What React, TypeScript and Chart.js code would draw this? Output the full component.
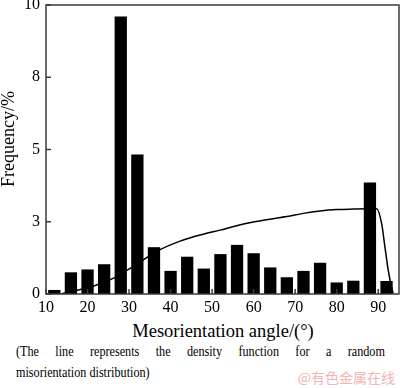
import React, { useEffect, useRef } from "react";
import { Chart, registerables } from "chart.js";

Chart.register(...registerables);

// Bin centres (degrees) and frequencies (%)
const binCenters = [12, 16, 20, 24, 28, 32, 36, 40, 44, 48, 52, 56, 60, 64, 68, 72, 76, 80, 84, 88, 92];
const frequencies = [0.14, 0.75, 0.85, 1.03, 9.6, 4.83, 1.62, 0.8, 1.29, 0.88, 1.38, 1.7, 1.41, 0.92, 0.58, 0.8, 1.08, 0.4, 0.46, 3.86, 0.45];

// Random misorientation density curve
const curveAngles = [13.5, 16, 19, 22, 26, 29, 32.6, 37, 42.3, 47.9, 51.9, 55.9, 59.9, 63.9, 68, 72, 76, 80, 84, 87.2, 89.6, 90.8, 91.6, 92.4, 93.2, 93.6];
const curveValues = [0, 0.08, 0.18, 0.3, 0.53, 0.78, 1.1, 1.5, 1.83, 2.07, 2.21, 2.36, 2.49, 2.59, 2.68, 2.79, 2.87, 2.92, 2.94, 2.95, 2.95, 2.45, 1.64, 0.83, 0.25, 0.02];

const xTicks = [10, 20, 30, 40, 50, 60, 70, 80, 90];
const yTicks = [0, 2.5, 5, 7.5, 10];

const FONT = "'Liberation Serif', 'Times New Roman', serif";

const framePlugin = {
  id: "frame",
  afterDatasetsDraw(chart: any) {
    const { ctx, chartArea, scales } = chart;
    const { left, top, right, bottom } = chartArea;
    ctx.save();
    ctx.strokeStyle = "#3a3a3a";
    ctx.lineWidth = 1.5;
    ctx.strokeRect(left, top, right - left, bottom - top);
    ctx.beginPath();
    xTicks.forEach((v) => {
      const px = scales.x.getPixelForValue(v);
      ctx.moveTo(px, bottom);
      ctx.lineTo(px, bottom - 5);
    });
    yTicks.forEach((v) => {
      const py = scales.y.getPixelForValue(v);
      ctx.moveTo(left, py);
      ctx.lineTo(left + 5, py);
    });
    ctx.stroke();
    ctx.restore();
  },
};

export default function App() {
  const ref = useRef<HTMLCanvasElement>(null);

  useEffect(() => {
    if (!ref.current) return;
    const chart = new Chart(ref.current, {
      type: "bar",
      data: {
        datasets: [
          {
            type: "line",
            data: curveAngles.map((x, i) => ({ x, y: curveValues[i] })),
            borderColor: "#000",
            borderWidth: 1.5,
            pointRadius: 0,
            cubicInterpolationMode: "monotone",
            order: 0,
          } as any,
          {
            type: "bar",
            data: binCenters.map((x, i) => ({ x, y: frequencies[i] })),
            backgroundColor: "#000",
            borderWidth: 0,
            barPercentage: 0.74,
            categoryPercentage: 1,
            order: 1,
          } as any,
        ],
      },
      options: {
        animation: false,
        responsive: false,
        maintainAspectRatio: false,
        layout: { padding: { left: 0, right: 1, top: 5, bottom: 0 } },
        plugins: { legend: { display: false }, tooltip: { enabled: false } },
        scales: {
          x: {
            type: "linear",
            min: 10,
            max: 95,
            offset: false,
            grid: { display: false, drawTicks: false },
            border: { display: false },
            afterBuildTicks: (s: any) => {
              s.ticks = xTicks.map((v) => ({ value: v }));
            },
            afterFit: (s: any) => {
              s.height = 26;
              s.paddingLeft = 0;
              s.paddingRight = 0;
            },
            ticks: {
              padding: 4,
              maxRotation: 0,
              autoSkip: false,
              color: "#000",
              font: { family: FONT, size: 16 },
            },
          },
          y: {
            min: 0,
            max: 10,
            grid: { display: false, drawTicks: false },
            border: { display: false },
            afterBuildTicks: (s: any) => {
              s.ticks = yTicks.map((v) => ({ value: v }));
            },
            afterFit: (s: any) => {
              s.width = 46;
              s.paddingTop = 0;
              s.paddingBottom = 0;
            },
            ticks: {
              padding: 6,
              color: "#000",
              font: { family: FONT, size: 16 },
              callback: (v: any) => String(Math.round(Number(v))),
            },
          },
        },
      },
      plugins: [framePlugin],
    });
    return () => chart.destroy();
  }, []);

  const captionLine: React.CSSProperties = {
    fontSize: 14,
    lineHeight: "20.7px",
    whiteSpace: "nowrap",
  };

  return (
    <div
      style={{
        position: "absolute",
        left: 0,
        top: 0,
        width: 400,
        height: 388,
        background: "#fff",
        overflow: "hidden",
        fontFamily: FONT,
        color: "#000",
      }}
    >
      <canvas ref={ref} width={400} height={320} style={{ display: "block", width: 400, height: 320 }} />
      <div
        style={{
          position: "absolute",
          left: 8,
          top: 139,
          transform: "translate(-50%, -50%) rotate(-90deg)",
          fontSize: 18,
          whiteSpace: "nowrap",
          lineHeight: 1,
        }}
      >
        Frequency/%
      </div>
      <div
        style={{
          position: "absolute",
          left: 223,
          top: 331,
          transform: "translate(-50%, -50%)",
          fontSize: 18.5,
          whiteSpace: "nowrap",
          lineHeight: 1,
        }}
      >
        Mesorientation angle/(°)
      </div>
      <div
        style={{
          position: "absolute",
          left: 16,
          top: 342,
          width: 424,
          transform: "scaleX(0.87)",
          transformOrigin: "0 0",
        }}
      >
        <div style={{ ...captionLine, whiteSpace: "normal", textAlign: "justify", textAlignLast: "justify" }}>
          (The line represents the density function for a random
        </div>
        <div style={captionLine}>misorientation distribution)</div>
      </div>
      <div
        style={{
          position: "absolute",
          right: 5,
          top: 369,
          fontSize: 14,
          lineHeight: "16px",
          color: "#f4b4b4",
          fontFamily: "'Noto Sans CJK SC', sans-serif",
          whiteSpace: "nowrap",
        }}
      >
        @有色金属在线
      </div>
    </div>
  );
}
